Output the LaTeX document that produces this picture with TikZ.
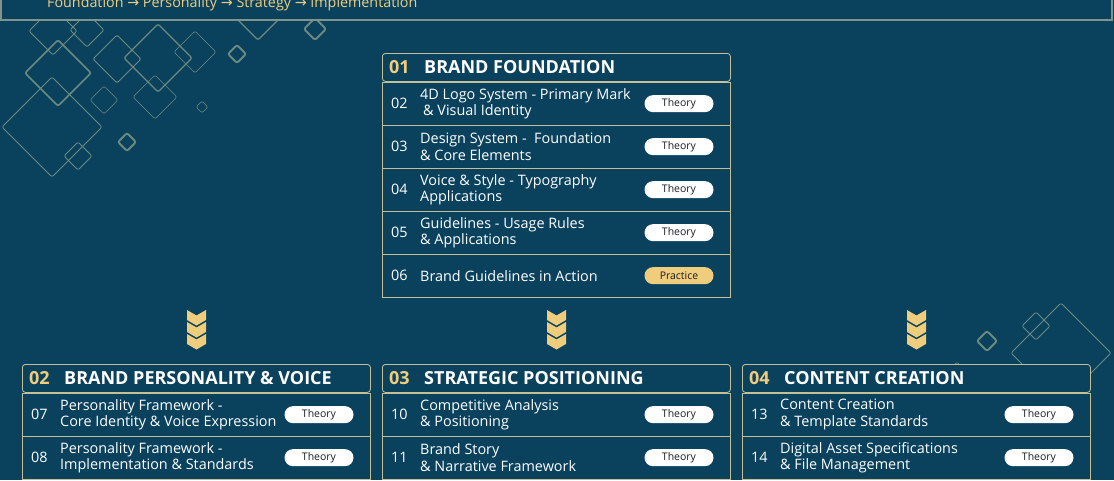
\documentclass[tikz,border=0pt]{standalone}
\usepackage{fontspec}
\usepackage{tikz}
\usetikzlibrary{positioning}
\setmainfont{Open Sans}
\newfontfamily\arrowfont{DejaVu Sans}

\definecolor{bgblue}{RGB}{10,66,94}
\definecolor{edgekhaki}{RGB}{196,192,150}
\definecolor{hdredge}{RGB}{128,148,138}
\definecolor{decogray}{RGB}{108,138,128}
\definecolor{gold}{RGB}{240,205,125}
\definecolor{inkdark}{RGB}{25,30,35}

\tikzset{
    rowbox/.style={draw=edgekhaki, line width=0.8pt, fill=bgblue, minimum width=348, minimum height=42.5, anchor=north west, inner sep=0pt},
    titlebox/.style={rowbox, minimum height=28, rounded corners=3pt},
    numtxt/.style={text=white, font=\fontsize{14.4}{16.5}\selectfont, anchor=west, inner sep=0pt},
    lbl/.style={numtxt, align=left},
    titlenum/.style={text=gold, font=\bfseries\fontsize{18}{20}\selectfont, anchor=west, inner sep=0pt},
    titletxt/.style={titlenum, text=white},
    theory/.style={fill=white, rounded corners=8.5pt, minimum width=69, minimum height=17, inner sep=0pt, text=inkdark, font=\fontsize{10.5}{12}\selectfont},
    practice/.style={theory, fill=gold},
    deco/.style={draw=decogray, rounded corners=2pt},
    chev/.style={fill=gold}
}

\begin{document}
\begin{tikzpicture}[x=1pt, y=-1pt]
    \useasboundingbox (0,0) rectangle (1114,480);
    \fill[bgblue] (0,0) rectangle (1114,480);

    % background diamonds
    \foreach \cx/\cy/\r/\w in {58/73/33/1.6, 52/127/50/0.8, 78/156/14/0.8, 117/59/24/1.0,
        158/58/34/1.2, 155/97/22/0.6, 104/100/14/0.6, 195/52/21/0.6, 202/107/6/0.6,
        127/142/9/1.8, 237/54/9/1.8, 315/29/11/1.8, 258/19/21/1.2, 53/31/24/0.8, 87/30/17/0.8,
        987/341/10/1.8, 1036/326/14/0.8, 1061/353/50/0.8, 957/380/18/0.6}
        \draw[deco, line width=\w pt] (\cx,\cy) +(-\r,0) -- +(0,-\r) -- +(\r,0) -- +(0,\r) -- cycle;

    % header bar
    \draw[hdredge, line width=1.2pt, fill=bgblue] (1,-20) rectangle (1112,20);
    \node[text=gold, font=\fontsize{14.3}{16}\selectfont, anchor=base west, inner sep=0pt] (path) at (47,7)
        {Foundation {\arrowfont →} Personality {\arrowfont →} Strategy {\arrowfont →} Implementation};

    % module 01
    \node[titlebox] (m01) at (382,53) {};
    \node[titlenum] (m01n) at ([xshift=7pt]m01.west) {01};
    \node[titletxt] (m01t) at ([xshift=42pt]m01.west) {BRAND FOUNDATION};
    \foreach \n/\t/\b/\bt [count=\i from 0] in {
        02/{4D Logo System - Primary Mark\\\hspace{3pt}\& Visual Identity}/theory/Theory,
        03/{Design System -\ \ Foundation\\\& Core Elements}/theory/Theory,
        04/{Voice \& Style - Typography\\Applications}/theory/Theory,
        05/{Guidelines - Usage Rules\\\& Applications}/theory/Theory,
        06/{Brand Guidelines in Action}/practice/Practice}{
        \node[rowbox] (r\n) at (382,82+43*\i) {};
        \node[numtxt] (r\n n) at ([xshift=9pt]r\n.west) {\n};
        \node[lbl] (r\n t) at ([xshift=38pt]r\n.west) {\t};
        \node[\b] (r\n b) at ([xshift=297pt]r\n.west) {\bt};
    }

    % lower modules
    \foreach \x/\n/\t in {22/02/BRAND PERSONALITY \& VOICE, 382/03/STRATEGIC POSITIONING, 742/04/CONTENT CREATION}{
        \node[titlebox] (m\n) at (\x,364) {};
        \node[titlenum] (m\n n) at ([xshift=7pt]m\n.west) {\n};
        \node[titletxt] (m\n t) at ([xshift=42pt]m\n.west) {\t};
        \foreach \i in {0,1,2}
            \fill[chev] (\x+174.5,315.5+12*\i) -- ++(-9.5,-5.5) -- ++(0,10) -- ++(9.5,5.5) -- ++(9.5,-5.5) -- ++(0,-10) -- cycle;
    }
    \foreach \x/\n/\t [count=\i from 0] in {
        22/07/{Personality Framework -\\Core Identity \& Voice Expression},
        22/08/{Personality Framework -\\Implementation \& Standards},
        382/10/{Competitive Analysis\\\& Positioning},
        382/11/{Brand Story\\\& Narrative Framework},
        742/13/{Content Creation\\\& Template Standards},
        742/14/{Digital Asset Specifications\\\& File Management}}{
        \pgfmathtruncatemacro{\k}{mod(\i,2)}
        \node[rowbox] (r\n) at (\x,393+43*\k) {};
        \node[numtxt] (r\n n) at ([xshift=9pt]r\n.west) {\n};
        \node[lbl] (r\n t) at ([xshift=38pt]r\n.west) {\t};
        \node[theory] (r\n b) at ([xshift=297pt]r\n.west) {Theory};
    }
\end{tikzpicture}
\end{document}
